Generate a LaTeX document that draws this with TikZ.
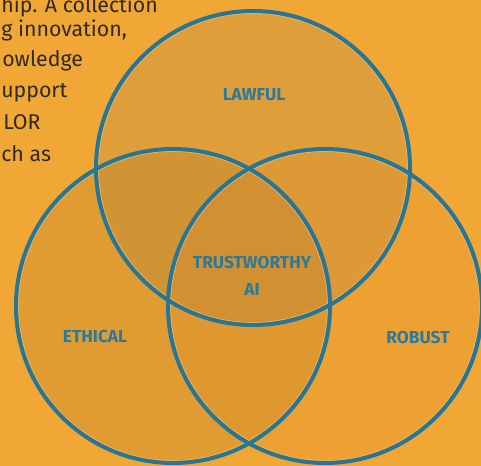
\documentclass[tikz,border=0pt]{standalone}
\usepackage{fontspec}
\setmainfont{Fira Sans}
\usetikzlibrary{positioning}
\definecolor{bgorange}{RGB}{241,167,54}
\definecolor{ringblue}{RGB}{40,118,150}
\definecolor{tagblue}{RGB}{42,122,158}
\definecolor{bodygrey}{RGB}{45,42,40}
\definecolor{lawfulfill}{RGB}{151,122,74}
\definecolor{ethicalfill}{RGB}{156,112,34}
\definecolor{robustfill}{RGB}{221,117,34}

\begin{document}
\begin{tikzpicture}[x=0.75pt,y=-0.75pt,
				disc/.style={circle,minimum size=235.5pt,inner sep=0pt,outer sep=0pt,fill opacity=0.2},
				ringline/.style={draw=ringblue,line width=3pt},
				innerline/.style={draw=bgorange!80!white,line width=0.5pt},
				tag/.style={text=tagblue,font=\bfseries\fontsize{13}{15}\selectfont,align=center},
				bodyline/.style={anchor=base west,text=bodygrey,font=\fontsize{16}{19}\selectfont,inner sep=0pt}]
				\useasboundingbox (0,0) rectangle (481,466);
				\clip (0,0) rectangle (481,466);
				\fill[bgorange] (0,0) rectangle (481,466);
				% paragraph running in from the left
				\node (P1) [bodyline] at (1,13)   {hip. A collection};
				\node (P2) [bodyline] at (1,37)   {g innovation,};
				\node (P3) [bodyline] at (2,67)   {owledge};
				\node (P4) [bodyline] at (1,98)   {upport};
				\node (P5) [bodyline] at (3,130)  {LOR};
				\node (P6) [bodyline] at (1,162)  {ch as};
				% the three circles
				\node (LAWFUL)  [disc,fill=lawfulfill]  at (253,168) {};
				\node (ETHICAL) [disc,fill=ethicalfill] at (173,306) {};
				\node (ROBUST)  [disc,fill=robustfill,fill opacity=0.1] at (325,306) {};
				\draw[innerline] (LAWFUL.center) circle[radius=154.5] (ETHICAL.center) circle[radius=154.5]
					(ROBUST.center) circle[radius=154.5];
				\draw[ringline] (LAWFUL.center) circle[radius=157] (ETHICAL.center) circle[radius=157]
					(ROBUST.center) circle[radius=157];
				% labels
				\node (LAWFULTAG)  [tag] at (254,95)  {LAWFUL};
				\node (ETHICALTAG) [tag] at (95,336)  {ETHICAL};
				\node (ROBUSTTAG)  [tag] at (418,337) {ROBUST};
				\node (TRUST)      [tag,font=\bfseries\fontsize{13}{20}\selectfont] at (252,276) {TRUSTWORTHY\\AI};
\end{tikzpicture}
\end{document}
